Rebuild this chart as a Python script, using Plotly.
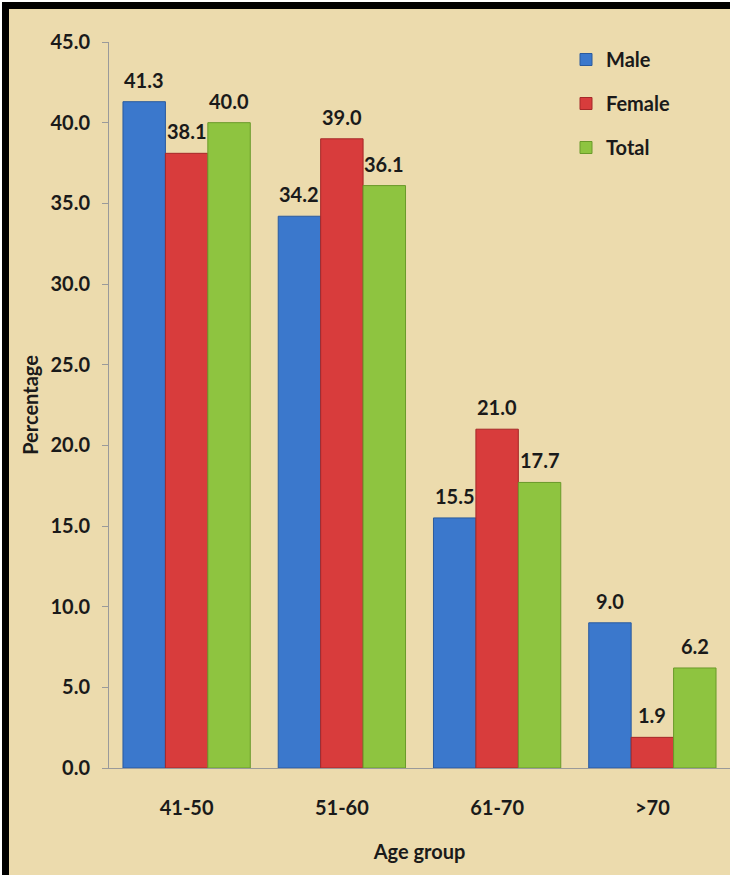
import plotly.graph_objects as go

categories = ["41-50", "51-60", "61-70", ">70"]
male = [41.3, 34.2, 15.5, 9.0]
female = [38.1, 39.0, 21.0, 1.9]
total = [40.0, 36.1, 17.7, 6.2]
series_names = ["Male", "Female", "Total"]
y_ticks = [0, 5, 10, 15, 20, 25, 30, 35, 40, 45]

colors = ["#3B78CC", "#D83C3C", "#8EC440"]
edges = ["#2A5A9E", "#A52828", "#6A9A2A"]

W, H = 730, 875
L, R, T, B = 109, 0, 42, 107
FONT = "Lato"
BARGAP = 0.18

fig = go.Figure()
for name, vals, c, e in zip(series_names, [male, female, total], colors, edges):
    fig.add_trace(go.Bar(
        x=categories, y=vals, name=name, legendgroup=name,
        marker=dict(color=c, line=dict(color=e, width=1)),
        cliponaxis=False,
    ))

pw = W - L - R
ph = H - T - B
def px2x(px):
    return (px - L) / pw
def py2y(py):
    return (H - B - py) / ph

# value labels placed above each bar (offset within the group like the bars)
bar_px = pw / len(categories) * (1 - BARGAP) / len(series_names)
annotations = []
for k, vals in enumerate([male, female, total]):
    for cat, v in zip(categories, vals):
        annotations.append(dict(
            x=cat, y=v, xref="x", yref="y", text=f"{v:.1f}", showarrow=False,
            xanchor="center", yanchor="middle",
            xshift=(k - 1) * bar_px, yshift=22,
            font=dict(family=FONT, size=20, color="#1a1a1a", weight="bold"),
        ))

fig.update_layout(
    width=W, height=H,
    margin=dict(l=L, r=R, t=T, b=B),
    paper_bgcolor="#ECDBAD",
    plot_bgcolor="rgba(0,0,0,0)",
    barmode="group", bargap=BARGAP, bargroupgap=0,
    font=dict(family=FONT, color="#1a1a1a"),
    showlegend=True,
    annotations=annotations,
    legend=dict(x=px2x(566), y=py2y(40), xanchor="left", yanchor="top",
                bgcolor="rgba(0,0,0,0)", traceorder="grouped",
                tracegroupgap=15,
                font=dict(family=FONT, size=20, weight="bold", color="#1a1a1a")),
    xaxis=dict(showline=True, linecolor="#9a9a9a", linewidth=1,
               ticks="", tickfont=dict(family=FONT, size=20, weight="bold"),
               ticklabelstandoff=22,
               title=dict(text="Age group", font=dict(family=FONT, size=20, weight="bold"),
                          standoff=26)),
    yaxis=dict(range=[0, 45], tickvals=y_ticks,
               ticktext=[f"{v:.1f}" for v in y_ticks],
               showgrid=False, zeroline=False,
               showline=True, linecolor="#9a9a9a", linewidth=1,
               ticks="outside", ticklen=6, tickcolor="#9a9a9a",
               ticklabelstandoff=8,
               tickfont=dict(family=FONT, size=20, weight="bold"),
               title=dict(text="Percentage", font=dict(family=FONT, size=20, weight="bold"),
                          standoff=6)),
    shapes=[
        dict(type="rect", xref="paper", yref="paper",
             x0=px2x(2), x1=px2x(9), y0=py2y(H), y1=py2y(2),
             fillcolor="black", line=dict(width=0), layer="above"),
        dict(type="rect", xref="paper", yref="paper",
             x0=px2x(2), x1=px2x(W), y0=py2y(9), y1=py2y(2),
             fillcolor="black", line=dict(width=0), layer="above"),
        dict(type="rect", xref="paper", yref="paper",
             x0=px2x(0), x1=px2x(W), y0=py2y(2), y1=py2y(0),
             fillcolor="white", line=dict(width=0), layer="above"),
        dict(type="rect", xref="paper", yref="paper",
             x0=px2x(0), x1=px2x(2), y0=py2y(H), y1=py2y(0),
             fillcolor="white", line=dict(width=0), layer="above"),
    ],
)

fig.write_html("out.html")
